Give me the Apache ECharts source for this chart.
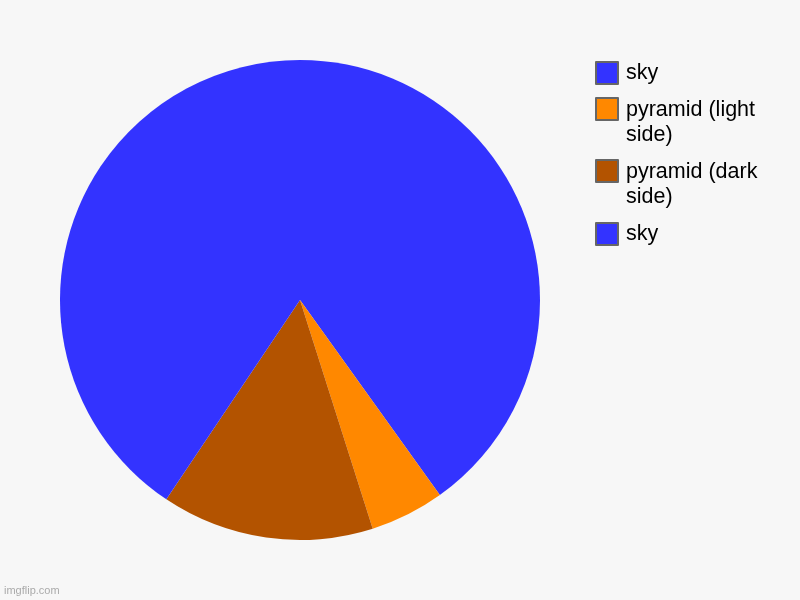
<!DOCTYPE html>
<html>
<head>
<meta charset="utf-8">
<script src="https://cdn.jsdelivr.net/npm/echarts@6/dist/echarts.min.js"></script>
<style>
html,body{margin:0;padding:0;background:#f7f7f7;}
#chart{width:800px;height:600px;}
</style>
</head>
<body>
<div id="chart"></div>
<script>
// ---- data ----
const categories = ['sky', 'pyramid (light side)', 'pyramid (dark side)', 'sky'];
const values = [40.1, 5.0, 14.3, 40.6];
const sliceColors = ['#3333ff', '#ff8800', '#b35300', '#3333ff'];

// ---- layout (legend rows) ----
const legendTops = [61, 97, 159, 222];
const legendLines = [1, 2, 2, 1];

const keys = categories.map((c, i) => i + '|' + c);
const chart = echarts.init(document.getElementById('chart'), null, {renderer: 'canvas'});

const legends = keys.map((k, i) => {
  const lines = legendLines[i];
  const h = lines === 1 ? 22 : 50;
  return {
    data: [k],
    orient: 'vertical',
    left: 595,
    top: legendTops[i],
    padding: 0,
    itemWidth: 22,
    itemHeight: h,
    icon: lines === 1 ? 'rect' : 'path://M0,0L22,0L22,22L0,22Z M0,50',
    itemStyle: {borderColor: '#666666', borderWidth: 2},
    selectedMode: false,
    formatter: n => n.slice(n.indexOf('|') + 1),
    textStyle: {
      fontFamily: 'Liberation Sans, Arial, sans-serif',
      fontSize: 21.5,
      color: '#000',
      lineHeight: lines === 1 ? 22 : 25,
      width: 150,
      overflow: 'break',
      padding: [0, 0, 0, 3]
    }
  };
});

chart.setOption({
  backgroundColor: '#f7f7f7',
  animation: false,
  legend: legends,
  graphic: [{
    type: 'text',
    left: 4,
    top: 585,
    style: {text: 'imgflip.com', fill: '#aaaaaa', fontSize: 11, fontFamily: 'Liberation Sans, Arial, sans-serif'}
  }],
  series: [{
    type: 'pie',
    center: [300, 300],
    radius: 240,
    startAngle: 90,
    clockwise: true,
    label: {show: false},
    labelLine: {show: false},
    emphasis: {disabled: true},
    itemStyle: {borderWidth: 0},
    data: keys.map((k, i) => ({name: k, value: values[i], itemStyle: {color: sliceColors[i]}}))
  }]
});
</script>
</body>
</html>
